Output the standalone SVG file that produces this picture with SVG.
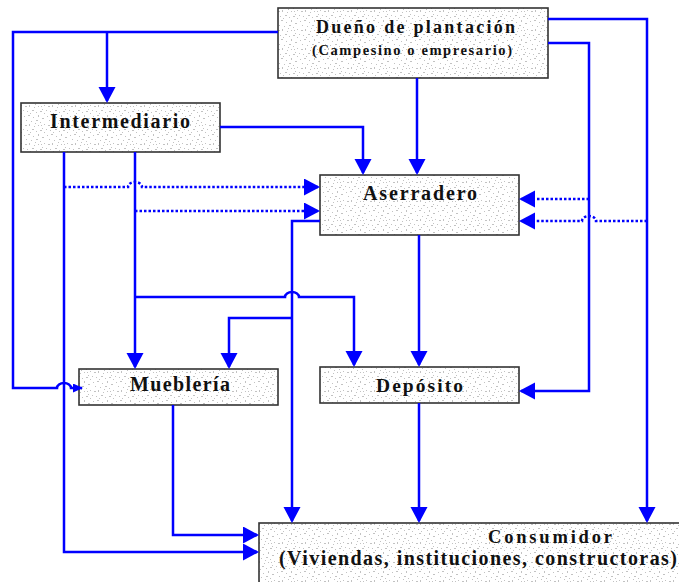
<svg xmlns="http://www.w3.org/2000/svg" width="679" height="582" viewBox="0 0 679 582">
<defs>
<pattern id="stip" width="23" height="19" patternUnits="userSpaceOnUse">
<rect width="23" height="19" fill="#ffffff"/>
<g fill="#c2c2c2">
<rect x="1" y="2" width="1" height="1"/><rect x="5" y="1" width="2" height="1"/><rect x="10" y="3" width="1" height="1"/>
<rect x="15" y="1" width="1" height="2"/><rect x="19" y="4" width="2" height="1"/><rect x="3" y="6" width="1" height="1"/>
<rect x="8" y="7" width="1" height="1"/><rect x="13" y="6" width="2" height="1"/><rect x="17" y="8" width="1" height="1"/>
<rect x="21" y="10" width="1" height="1"/><rect x="2" y="11" width="2" height="1"/><rect x="6" y="10" width="1" height="2"/>
<rect x="11" y="12" width="1" height="1"/><rect x="15" y="11" width="1" height="1"/><rect x="19" y="14" width="1" height="1"/>
<rect x="0" y="15" width="1" height="1"/><rect x="4" y="16" width="1" height="1"/><rect x="9" y="15" width="2" height="1"/>
<rect x="13" y="17" width="1" height="1"/><rect x="17" y="16" width="2" height="1"/><rect x="7" y="18" width="1" height="1"/>
<rect x="21" y="18" width="1" height="1"/><rect x="12" y="9" width="1" height="1"/><rect x="18" y="11" width="1" height="1"/>
</g>
</pattern>
<marker id="ah" markerUnits="userSpaceOnUse" markerWidth="16" markerHeight="18" refX="14" refY="8.5" orient="auto">
<path d="M0,0 L16,8.5 L0,17 z" fill="#0000ff"/>
</marker>
<marker id="ahs" markerUnits="userSpaceOnUse" markerWidth="10" markerHeight="10" refX="9" refY="4.5" orient="auto">
<path d="M0,0 L10,4.5 L0,9 z" fill="#0000ff"/>
</marker>
<style>
.box{fill:url(#stip);stroke:#333333;stroke-width:1.6}
.c{fill:none;stroke:#0000ff;stroke-width:2.5}
.a{marker-end:url(#ah)}
.d{stroke-dasharray:2.5 2}
.t{font-family:"Liberation Serif","Times New Roman",serif;font-weight:bold;fill:#111111}
</style>
</defs>
<g id="dueno">
<rect class="box" x="278" y="8" width="270" height="70"/>
<text class="t" x="316" y="33" font-size="18" textLength="199" lengthAdjust="spacing">Dueño de plantación</text>
<text class="t" x="312" y="55" font-size="14.5" textLength="200" lengthAdjust="spacing">(Campesino o empresario)</text>
</g>
<g id="intermediario">
<rect class="box" x="21" y="103" width="199" height="49"/>
<text class="t" x="50" y="128" font-size="20" textLength="140" lengthAdjust="spacing">Intermediario</text>
</g>
<g id="aserradero">
<rect class="box" x="320" y="175" width="199" height="60"/>
<text class="t" x="363" y="200" font-size="20" textLength="114" lengthAdjust="spacing">Aserradero</text>
</g>
<g id="muebleria">
<rect class="box" x="79" y="369" width="199" height="36"/>
<text class="t" x="130" y="391" font-size="20" textLength="100" lengthAdjust="spacing">Mueblería</text>
</g>
<g id="deposito">
<rect class="box" x="320" y="367" width="199" height="36"/>
<text class="t" x="376" y="392" font-size="19.5" textLength="87" lengthAdjust="spacing">Depósito</text>
</g>
<g id="consumidor">
<rect class="box" x="259" y="523" width="430" height="70"/>
<text class="t" x="488" y="543" font-size="18.5" textLength="124" lengthAdjust="spacing">Consumidor</text>
<text class="t" x="279" y="565" font-size="20" textLength="398" lengthAdjust="spacing">(Viviendas, instituciones, constructoras)</text>
</g>
<g id="connectors">
<path class="c" d="M278,32 H13 V388 H57 A7,5 0 0 1 71,388 H82" marker-end="url(#ahs)"/>
<path class="c a" d="M107,32 V101"/>
<path class="c a" d="M220,127 H363 V173"/>
<path class="c a" d="M417,78 V173"/>
<path class="c a" d="M548,19 H647 V521"/>
<path class="c a" d="M548,43 H589 V391 H521"/>
<path class="c a d" d="M589,199 H521"/>
<path class="c a d" d="M647,221 H596 A7,5 0 0 0 582,221 H521"/>
<path class="c a d" d="M64,187 H128 A7,5 0 0 1 142,187 H318"/>
<path class="c a d" d="M135,211 H318"/>
<path class="c a" d="M64,152 V552 H257"/>
<path class="c a" d="M135,152 V367"/>
<path class="c a" d="M135,297 H285 A7,5 0 0 1 299,297 H354 V365"/>
<path class="c a" d="M320,221 H292 V521"/>
<path class="c a" d="M292,318 H229 V367"/>
<path class="c a" d="M419,235 V365"/>
<path class="c a" d="M173,405 V535 H257"/>
<path class="c a" d="M419,403 V521"/>
</g>
</svg>
